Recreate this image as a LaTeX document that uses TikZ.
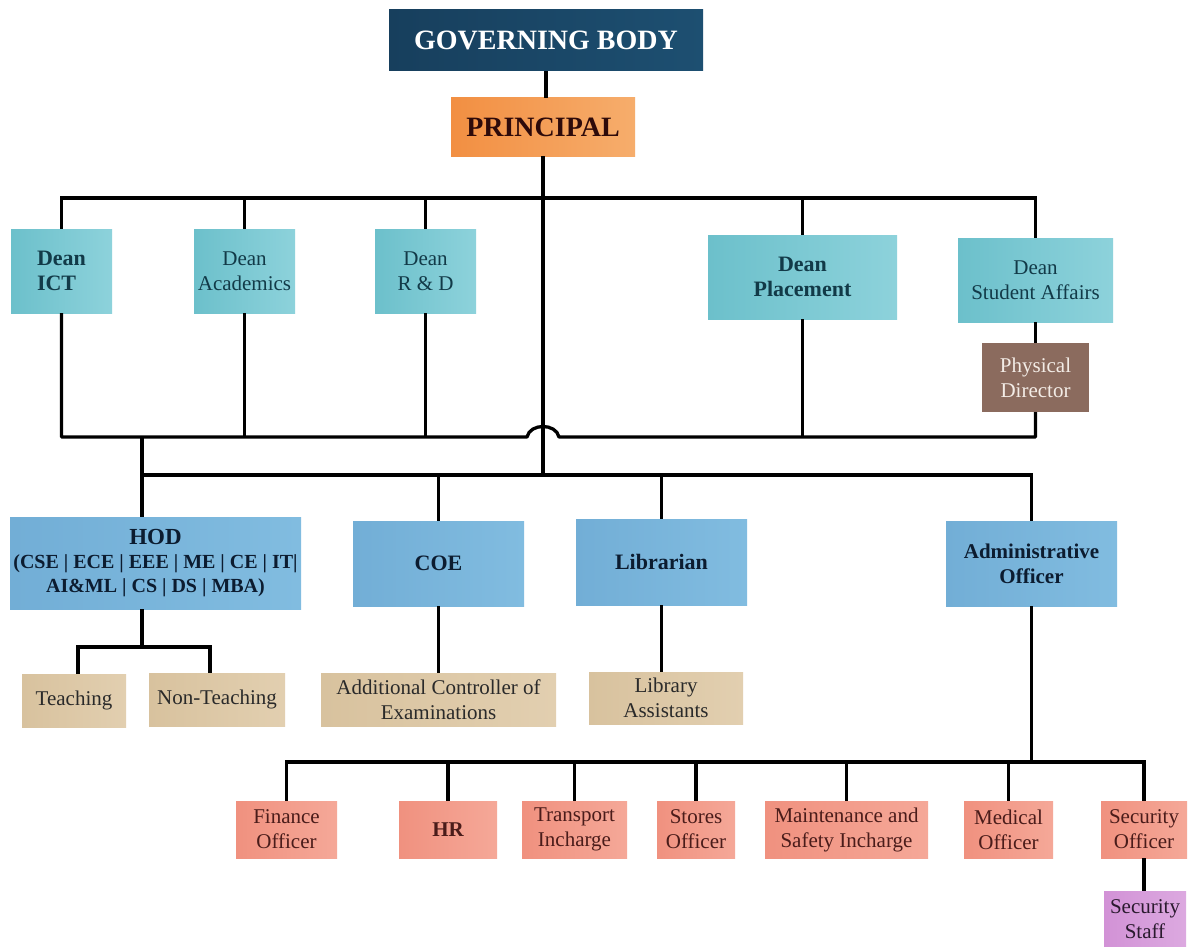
\documentclass[tikz,border=0pt]{standalone}
\usepackage{fontspec}
\setmainfont{Liberation Serif}
\usetikzlibrary{calc}
\definecolor{gbL}{HTML}{173F5D}
\definecolor{gbR}{HTML}{1D4F71}
\definecolor{prL}{HTML}{F28F42}
\definecolor{prR}{HTML}{F6AD6C}
\definecolor{prT}{HTML}{2E0A0A}
\definecolor{dnL}{HTML}{6CC0CB}
\definecolor{dnR}{HTML}{8DD2DB}
\definecolor{dnT}{HTML}{123A48}
\definecolor{blL}{HTML}{72AED6}
\definecolor{blR}{HTML}{81BCE0}
\definecolor{blT}{HTML}{0C1C30}
\definecolor{tnL}{HTML}{D8C29E}
\definecolor{tnR}{HTML}{E2CFB0}
\definecolor{tnT}{HTML}{2A2A2A}
\definecolor{saL}{HTML}{F0917F}
\definecolor{saR}{HTML}{F5A898}
\definecolor{saT}{HTML}{4A1C1A}
\definecolor{brC}{HTML}{8B6B5E}
\definecolor{brT}{HTML}{F3ECE6}
\definecolor{pkL}{HTML}{D292D6}
\definecolor{pkR}{HTML}{DCA9E0}
\definecolor{pkT}{HTML}{2A1A2E}
\begin{document}
\begin{tikzpicture}[x=1pt,y=-1pt,
  wh/.style 2 args={minimum width=#1pt, minimum height=#2pt},
  box/.style={inner sep=0pt, align=center, font=\fontsize{21}{25}\selectfont},
  bbox/.style={box, font=\fontsize{22}{25}\selectfont\bfseries},
  gbbox/.style={inner sep=0pt, left color=gbL, right color=gbR, text=white, font=\fontsize{28}{30}\selectfont\bfseries},
  prbox/.style={inner sep=0pt, left color=prL, right color=prR, text=prT, font=\fontsize{28}{30}\selectfont\bfseries},
  deanbox/.style={left color=dnL, right color=dnR, text=dnT},
  bluebox/.style={left color=blL, right color=blR, text=blT},
  tanbox/.style={box, left color=tnL, right color=tnR, text=tnT},
  salbox/.style={box, left color=saL, right color=saR, text=saT},
  brbox/.style={box, fill=brC, text=brT},
  pkbox/.style={box, left color=pkL, right color=pkR, text=pkT},
  conn/.style={draw=black, line width=3.3pt}
]
\useasboundingbox (0,0) rectangle (1196,947);
\fill[white] (0,0) rectangle (1196,947);

% top
\node[gbbox, wh={314}{61}] (gb) at (546,40.5) {GOVERNING BODY};
\node[prbox, wh={184}{58}] (pr) at (543,127) {PRINCIPAL};

% deans
\node[bbox, deanbox, wh={101}{84}, align=left] (ict) at (61.5,271) {Dean\\ICT};
\node[box, deanbox, wh={101}{84}] (acad) at (244.5,271) {Dean\\Academics};
\node[box, deanbox, wh={101}{84}] (rd) at (425.5,271) {Dean\\R \& D};
\node[bbox, deanbox, wh={189}{84}] (plc) at (802.5,277) {Dean\\Placement};
\node[box, deanbox, wh={155}{84}] (dsa) at (1035.5,280) {Dean\\Student Affairs};
\node[brbox, wh={107}{69}] (pd) at (1035.5,377.5) {Physical\\Director};

% middle row
\node[box, bluebox, wh={291}{92}, font=\fontsize{20}{24}\selectfont\bfseries] (hod) at (155.5,563)
  {{\fontsize{23}{24}\selectfont HOD}\\(CSE | ECE | EEE | ME | CE | IT|\\AI\&ML | CS | DS | MBA)};
\node[bbox, bluebox, wh={171}{85}] (coe) at (438.5,563.5) {COE};
\node[bbox, bluebox, wh={171}{86}] (lib) at (661.5,562) {Librarian};
\node[bbox, bluebox, wh={171}{85}, font=\fontsize{21}{25}\selectfont\bfseries] (admin) at (1031.5,563.5) {Administrative\\Officer};

% third row
\node[tanbox, wh={104}{53}] (teach) at (74,700.5) {Teaching};
\node[tanbox, wh={136}{53}] (nont) at (217,699.5) {Non-Teaching};
\node[tanbox, wh={235}{53}] (ace) at (438.5,699.5) {Additional Controller of\\Examinations};
\node[tanbox, wh={154}{52}] (la) at (666,698) {Library\\Assistants};

% bottom row
\node[salbox, wh={101}{57}] (fin) at (286.5,829.5) {Finance\\Officer};
\node[salbox, wh={98}{57}, font=\fontsize{21}{25}\selectfont\bfseries] (hr) at (448,829.5) {HR};
\node[salbox, wh={105}{57}] (tr) at (574.5,829.5) {Transport\\Incharge};
\node[salbox, wh={78}{57}] (sto) at (696,829.5) {Stores\\Officer};
\node[salbox, wh={163}{57}] (mnt) at (846.5,829.5) {Maintenance and\\Safety Incharge};
\node[salbox, wh={89}{57}] (med) at (1008.5,829.5) {Medical\\Officer};
\node[salbox, wh={86}{57}] (seco) at (1144,829.5) {Security\\Officer};
\node[pkbox, wh={82}{56}] (staff) at (1145,919) {Security\\Staff};

% bus coordinates
\coordinate (b1) at (543,198);
\coordinate (b2) at (142,437);
\coordinate (b3) at (142,475);
\coordinate (b4) at (1031.5,762);
\coordinate (b5) at (142,647);
\coordinate (hop) at (543,437);

% connectors
\draw[conn] (gb.south) -- (gb.south |- pr.north);
\draw[conn] (pr.south) -- (pr.south |- b3);
\draw[conn] (ict.north) |- (b1) -| (dsa.north);
\draw[conn] (acad.north) -- (acad.north |- b1);
\draw[conn] (rd.north) -- (rd.north |- b1);
\draw[conn] (plc.north) -- (plc.north |- b1);
\draw[conn] (dsa.south) -- (pd.north);
\draw[conn, line join=round] (ict.south) |- ($(hop)+(-16,0)$) .. controls +(3,-14) and +(-3,-14) .. ($(hop)+(16,0)$) -| (pd.south);
\draw[conn] (acad.south) -- (acad.south |- b2);
\draw[conn] (rd.south) -- (rd.south |- b2);
\draw[conn] (plc.south) -- (plc.south |- b2);
\draw[conn] (b2) -- (b2 |- hod.north);
\draw[conn] (b3) -| (admin.north);
\draw[conn] (coe.north) -- (coe.north |- b3);
\draw[conn] (lib.north) -- (lib.north |- b3);
\draw[conn] (b2 |- hod.south) -- (b5);
\draw[conn] ($(teach.north)+(4,0)$) |- (b5) -| ($(nont.north)+(-7,0)$);
\draw[conn] (coe.south) -- (coe.south |- ace.north);
\draw[conn] (lib.south) -- (lib.south |- la.north);
\draw[conn] (admin.south) -- (b4);
\draw[conn] (fin.north) |- (b4) -| (seco.north);
\draw[conn] (hr.north) -- (hr.north |- b4);
\draw[conn] (tr.north) -- (tr.north |- b4);
\draw[conn] (sto.north) -- (sto.north |- b4);
\draw[conn] (mnt.north) -- (mnt.north |- b4);
\draw[conn] (med.north) -- (med.north |- b4);
\draw[conn] (seco.south) -- (seco.south |- staff.north);
\end{tikzpicture}
\end{document}
